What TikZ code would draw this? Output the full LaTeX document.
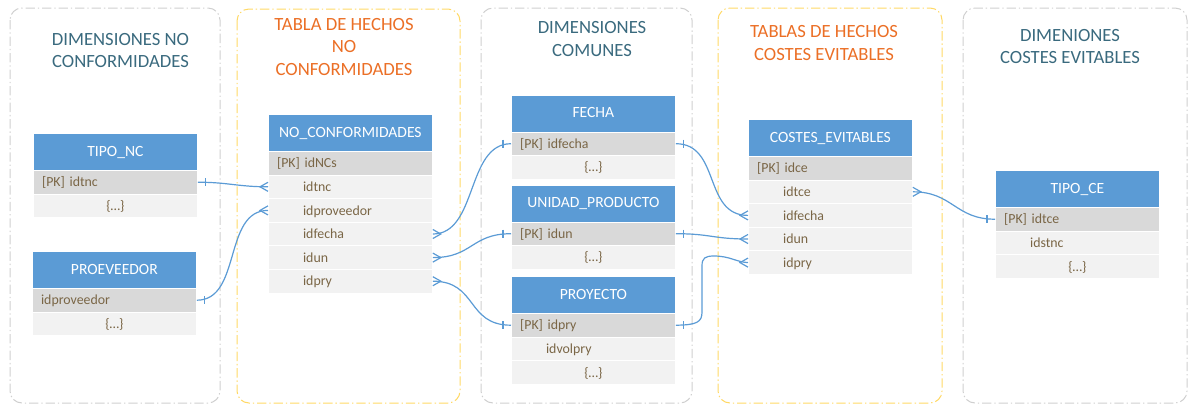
\documentclass[tikz,border=0pt]{standalone}
\usepackage{fontspec}
\setmainfont{Carlito}
\definecolor{hblue}{HTML}{5B9BD5}
\definecolor{pkgray}{HTML}{D9D9D9}
\definecolor{rowgray}{HTML}{F2F2F2}
\definecolor{fieldc}{HTML}{7A6646}
\definecolor{teal1}{HTML}{3A6A7E}
\definecolor{orange1}{HTML}{EB6F26}
\definecolor{panelgray}{HTML}{CFCFCF}
\definecolor{panelyel}{HTML}{FFD966}
\definecolor{connc}{HTML}{5B9BD5}
\newcommand\crowE[1]{\draw[conn] ([yshift=3.4pt]#1.east) -- ([xshift=6pt]#1.east) -- ([yshift=-3.4pt]#1.east);}
\newcommand\crowW[1]{\draw[conn] ([yshift=3.4pt]#1.west) -- ([xshift=-6pt]#1.west) -- ([yshift=-3.4pt]#1.west);}
\newcommand\barE[1]{\draw[conn] ([xshift=6pt,yshift=3pt]#1.east) -- ([xshift=6pt,yshift=-3pt]#1.east);}
\newcommand\barW[1]{\draw[conn] ([xshift=-6pt,yshift=3pt]#1.west) -- ([xshift=-6pt,yshift=-3pt]#1.west);}
\begin{document}
\begin{tikzpicture}[x=0.75pt,y=-0.75pt,
  panel/.style={line width=0.75pt, rounded corners=9pt, dash pattern=on 7pt off 2.2pt on 1pt off 2.2pt},
  pgray/.style={panel, draw=panelgray},
  pyel/.style={panel, draw=panelyel},
  ttl/.style={font=\fontsize{14}{16.9}\selectfont, align=center, inner sep=0pt},
  ttlA/.style={ttl, text=teal1},
  ttlB/.style={ttl, text=orange1},
  hdr/.style={fill=hblue, draw=white, line width=0.6pt, text=white, font=\fontsize{11.7}{14}\selectfont,
    minimum width=123pt, minimum height=27.75pt, inner sep=0pt, anchor=north west, text height=0.644em, text depth=0pt},
  rowbase/.style={draw=white, line width=0.6pt, text=fieldc, font=\fontsize{10.4}{12}\selectfont,
    minimum height=17.7pt, inner xsep=6.5pt, inner ysep=0pt, text width=110pt, anchor=north west, text height=0.7em, text depth=0pt},
  pkrow/.style={rowbase, fill=pkgray, align=left},
  fldrow/.style={rowbase, fill=rowgray, align=left, execute at begin node=\hspace*{19.5pt}},
  etcrow/.style={rowbase, fill=rowgray, align=center},
  conn/.style={draw=connc, line width=0.9pt},
]
\useasboundingbox (0,0) rectangle (1188,405);
% panels
\draw[pgray] (10,8) rectangle (220,403);
\draw[pyel] (237,9) rectangle (460,403);
\draw[pgray] (481,8) rectangle (692,403);
\draw[pyel] (718,8) rectangle (942,403);
\draw[pgray] (963,8) rectangle (1187,403);
% titles
\node[ttlA] (t1) at (120.5,50.5) {DIMENSIONES NO\\CONFORMIDADES};
\node[ttlB] (t2) at (344,46.7) {TABLA DE HECHOS\\NO\\CONFORMIDADES};
\node[ttlA] (t3) at (592,38.8) {DIMENSIONES\\COMUNES};
\node[ttlB] (t4) at (824,43) {TABLAS DE HECHOS\\COSTES EVITABLES};
\node[ttlA] (t5) at (1070,46.5) {DIMENIONES\\COSTES EVITABLES};
% TIPO_NC
\node[hdr] (tnc) at (33,133) {TIPO\_NC};
\node[pkrow] (tnc-pk) at (33,170) {[PK] idtnc};
\node[etcrow] (tnc-x) at (33,193.6) {\{…\}};
% PROEVEEDOR
\node[hdr] (prv) at (32,251) {PROEVEEDOR};
\node[pkrow] (prv-pk) at (32,288) {idproveedor};
\node[etcrow] (prv-x) at (32,311.6) {\{…\}};
% NO_CONFORMIDADES
\node[hdr] (nc) at (268,114) {NO\_CONFORMIDADES};
\node[pkrow] (nc-pk) at (268,151) {[PK] idNCs};
\node[fldrow] (nc-tnc) at (268,174.6) {idtnc};
\node[fldrow] (nc-prv) at (268,198.2) {idproveedor};
\node[fldrow] (nc-fec) at (268,221.8) {idfecha};
\node[fldrow] (nc-un) at (268,245.4) {idun};
\node[fldrow] (nc-pry) at (268,269) {idpry};
% FECHA
\node[hdr] (fec) at (511,94.5) {FECHA};
\node[pkrow] (fec-pk) at (511,131.5) {[PK] idfecha};
\node[etcrow] (fec-x) at (511,155.1) {\{…\}};
% UNIDAD_PRODUCTO
\node[hdr] (un) at (511,184.5) {UNIDAD\_PRODUCTO};
\node[pkrow] (un-pk) at (511,221.5) {[PK] idun};
\node[etcrow] (un-x) at (511,245.1) {\{…\}};
% PROYECTO
\node[hdr] (pry) at (511,276) {PROYECTO};
\node[pkrow] (pry-pk) at (511,313) {[PK] idpry};
\node[fldrow] (pry-vol) at (511,336.6) {idvolpry};
\node[etcrow] (pry-x) at (511,360.2) {\{…\}};
% COSTES_EVITABLES
\node[hdr] (ce) at (748,119) {COSTES\_EVITABLES};
\node[pkrow] (ce-pk) at (748,156) {[PK] idce};
\node[fldrow] (ce-tce) at (748,179.6) {idtce};
\node[fldrow] (ce-fec) at (748,203.2) {idfecha};
\node[fldrow] (ce-un) at (748,226.8) {idun};
\node[fldrow] (ce-pry) at (748,250.4) {idpry};
% TIPO_CE
\node[hdr] (tce) at (995,170) {TIPO\_CE};
\node[pkrow] (tce-pk) at (995,207) {[PK] idtce};
\node[fldrow] (tce-st) at (995,230.6) {idstnc};
\node[etcrow] (tce-x) at (995,254.2) {\{…\}};
% connectors
\draw[conn] (tnc-pk.east) .. controls +(30,0) and +(-30,0) .. (nc-tnc.west);
\barE{tnc-pk} \crowW{nc-tnc}
\draw[conn] (prv-pk.east) .. controls +(45,0) and +(-45,0) .. (nc-prv.west);
\barE{prv-pk} \crowW{nc-prv}
\draw[conn] (nc-fec.east) .. controls +(45,0) and +(-45,0) .. (fec-pk.west);
\crowE{nc-fec} \barW{fec-pk}
\draw[conn] (nc-un.east) .. controls +(40,0) and +(-40,0) .. (un-pk.west);
\crowE{nc-un} \barW{un-pk}
\draw[conn] (nc-pry.east) .. controls +(45,0) and +(-45,0) .. (pry-pk.west);
\crowE{nc-pry} \barW{pry-pk}
\draw[conn] (fec-pk.east) .. controls +(45,0) and +(-45,0) .. (ce-fec.west);
\barE{fec-pk} \crowW{ce-fec}
\draw[conn] (un-pk.east) .. controls +(35,0) and +(-35,0) .. (ce-un.west);
\barE{un-pk} \crowW{ce-un}
\draw[conn] (pry-pk.east) .. controls (697,325) and (702,322) .. (702,312) -- (702,266)
  .. controls (702,258) and (705,256) .. (714,256) .. controls (730,256) and (736,262) .. (ce-pry.west);
\barE{pry-pk} \crowW{ce-pry}
\draw[conn] (ce-tce.east) .. controls +(40,0) and +(-40,0) .. (tce-pk.west);
\crowE{ce-tce} \barW{tce-pk}
\end{tikzpicture}
\end{document}
